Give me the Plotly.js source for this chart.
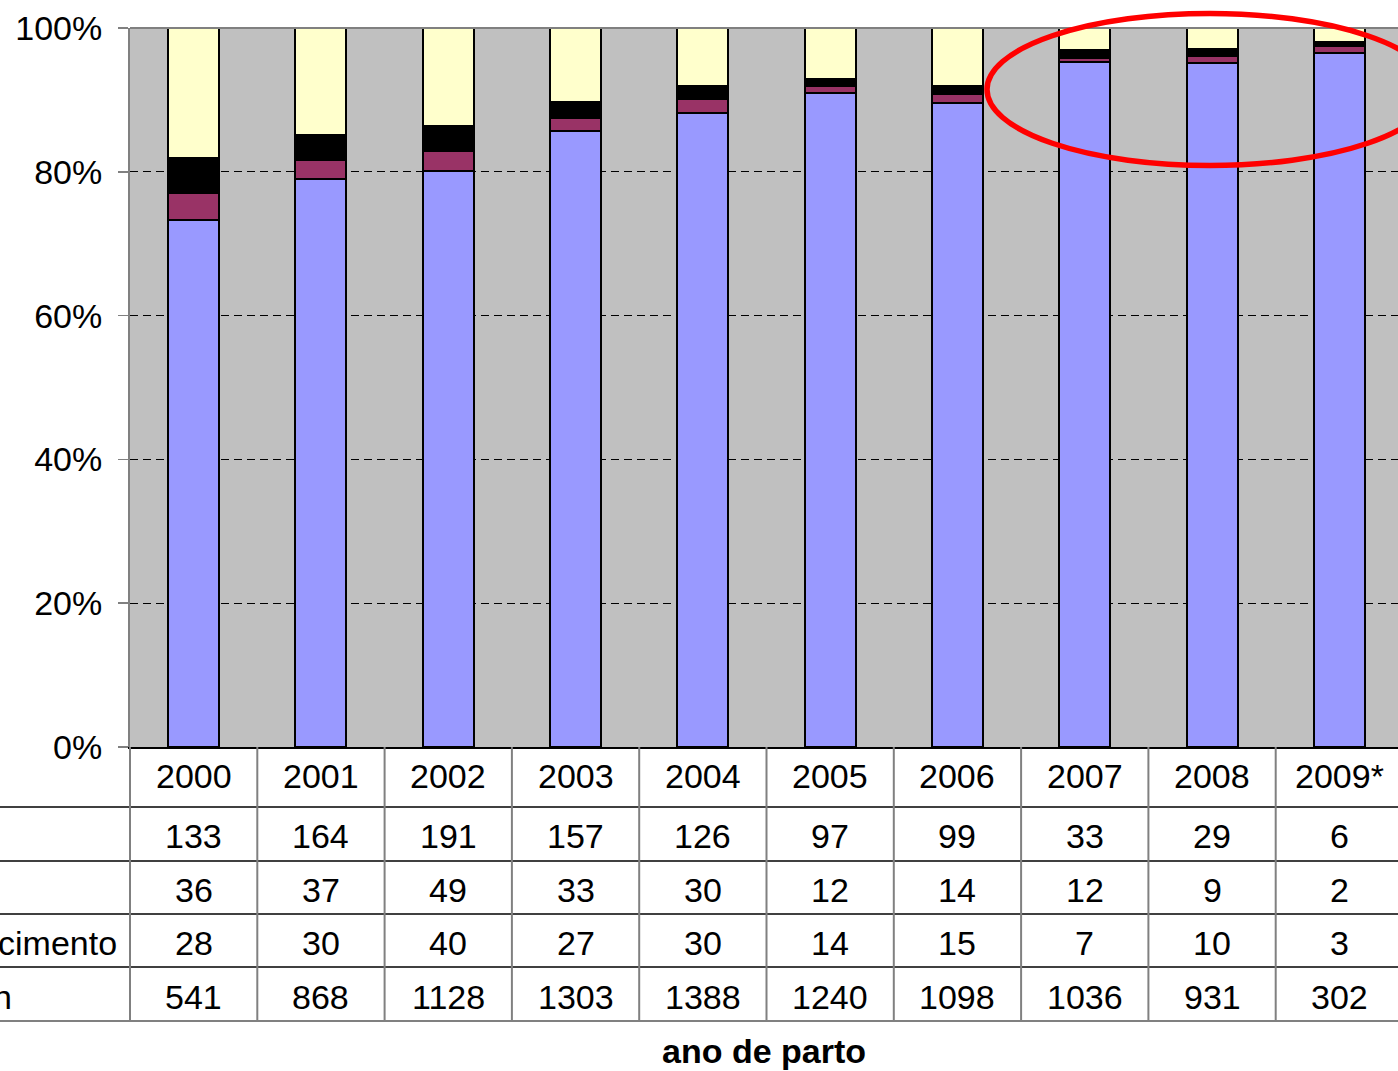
<!DOCTYPE html>
<html>
<head>
<meta charset="utf-8">
<script src="https://cdn.plot.ly/plotly-3.0.1.min.js"></script>
<style>
  html, body { margin: 0; padding: 0; background: #fff; overflow: hidden; }
  #chart { width: 1398px; height: 1071px; }
</style>
</head>
<body>
<div id="chart"></div>
<script>
// ---- data ----
var years = ['2000', '2001', '2002', '2003', '2004', '2005', '2006', '2007', '2008', '2009*'];
var row1Yellow = [133, 164, 191, 157, 126, 97, 99, 33, 29, 6];
var row2Black = [36, 37, 49, 33, 30, 12, 14, 12, 9, 2];
var row3Maroon = [28, 30, 40, 27, 30, 14, 15, 7, 10, 3];
var row4Blue = [541, 868, 1128, 1303, 1388, 1240, 1098, 1036, 931, 302];
var rowLabels = ['', '', 'cimento', 'n'];
var yTicks = [0, 20, 40, 60, 80, 100];
var yTickLabels = ['0%', '20%', '40%', '60%', '80%', '100%'];

// ---- layout helpers ----
var W = 1398, H = 1071;
var mL = 130, mR = 0, mT = 28, mB = 324;
var plotW = W - mL - mR, plotH = H - mT - mB;
var catW = 127.3;
var xr = [-0.5, -0.5 + plotW / catW];
function px2paperY(p) { return (H - mB - p) / plotH; }
function px2paperX(p) { return (p - mL) / plotW; }
function x2paper(v) { return (v - xr[0]) / (xr[1] - xr[0]); }

var xs = years.map(function (_, i) { return i; });
var FONT = 'Liberation Sans, Arial, sans-serif';
var FS = 34;

function barTrace(vals, color, name) {
  return {
    type: 'bar', x: xs, y: vals, name: name, width: 0.4,
    marker: { color: color, line: { color: '#000000', width: 2 } },
    hoverinfo: 'skip'
  };
}
var data = [
  barTrace(row4Blue, '#9999FF', 'row4'),
  barTrace(row3Maroon, '#993366', 'row3'),
  barTrace(row2Black, '#000000', 'row2'),
  barTrace(row1Yellow, '#FFFFCC', 'row1')
];

// ---- table geometry ----
var rowLinesPx = [807, 861, 914, 967];
var bottomPx = 1021;
var rowCentersPx = [776, 836, 890, 943, 997];

var shapes = [];
// top border of plot
shapes.push({ type: 'line', xref: 'paper', yref: 'paper', x0: 0, x1: 1.01, y0: 1, y1: 1,
  line: { color: '#808080', width: 2 }, layer: 'above' });
// horizontal table lines
rowLinesPx.forEach(function (p) {
  shapes.push({ type: 'line', xref: 'paper', yref: 'paper', x0: px2paperX(-5), x1: 1.01,
    y0: px2paperY(p), y1: px2paperY(p), line: { color: '#000000', width: 1.5 } });
});
shapes.push({ type: 'line', xref: 'paper', yref: 'paper', x0: px2paperX(-5), x1: 1.01,
  y0: px2paperY(bottomPx), y1: px2paperY(bottomPx), line: { color: '#808080', width: 2 } });
// vertical table lines
for (var k = 0; k <= years.length; k++) {
  var xp = x2paper(k - 0.5);
  shapes.push({ type: 'line', xref: 'paper', yref: 'paper', x0: xp, x1: xp,
    y0: 0, y1: px2paperY(bottomPx), line: { color: '#808080', width: 2 } });
}
// red ellipse highlight
shapes.push({ type: 'circle', xref: 'paper', yref: 'paper',
  x0: px2paperX(987), x1: px2paperX(1433), y0: px2paperY(165.5), y1: px2paperY(13.5),
  line: { color: '#FF0000', width: 5.5 }, fillcolor: 'rgba(0,0,0,0)', layer: 'above' });

// ---- table annotations ----
var annotations = [];
var rows = [years, row1Yellow, row2Black, row3Maroon, row4Blue];
rows.forEach(function (vals, r) {
  vals.forEach(function (v, i) {
    annotations.push({ xref: 'x', yref: 'paper', x: i, y: px2paperY(rowCentersPx[r]),
      xanchor: 'center', yanchor: 'middle', showarrow: false, text: String(v),
      font: { family: FONT, size: FS, color: '#000000' } });
  });
});
var labelRightPx = [0, 0, 119, 14];
rowLabels.forEach(function (t, r) {
  if (!t) return;
  annotations.push({ xref: 'paper', yref: 'paper', x: px2paperX(labelRightPx[r]),
    y: px2paperY(rowCentersPx[r + 1]), xanchor: 'right', yanchor: 'middle', showarrow: false,
    text: t, font: { family: FONT, size: FS, color: '#000000' } });
});

var layout = {
  width: W, height: H,
  margin: { l: mL, r: mR, t: mT, b: mB, pad: 0 },
  paper_bgcolor: '#FFFFFF', plot_bgcolor: '#C0C0C0',
  barmode: 'stack', barnorm: 'percent',
  showlegend: false,
  font: { family: FONT, size: FS, color: '#000000' },
  xaxis: {
    range: xr, showticklabels: false, ticks: '', showgrid: false, zeroline: false,
    showline: true, linecolor: '#000000', linewidth: 1.5, fixedrange: true,
    title: { text: '<b>ano de parto</b>', font: { family: FONT, size: FS, color: '#000000' }, standoff: 291 },
    automargin: false
  },
  yaxis: {
    range: [0, 100], tickmode: 'array', tickvals: yTicks, ticktext: yTickLabels,
    showgrid: true, gridcolor: '#000000', gridwidth: 1, griddash: '8px,5px',
    zeroline: false, showline: true, linecolor: '#808080', linewidth: 2,
    ticks: 'outside', ticklen: 10, tickcolor: '#808080', tickwidth: 1.5,
    ticklabelstandoff: 9,
    tickfont: { family: FONT, size: FS, color: '#000000' }, automargin: false, fixedrange: true
  },
  shapes: shapes,
  annotations: annotations
};

Plotly.newPlot('chart', data, layout, { displayModeBar: false, staticPlot: true });
</script>
</body>
</html>
